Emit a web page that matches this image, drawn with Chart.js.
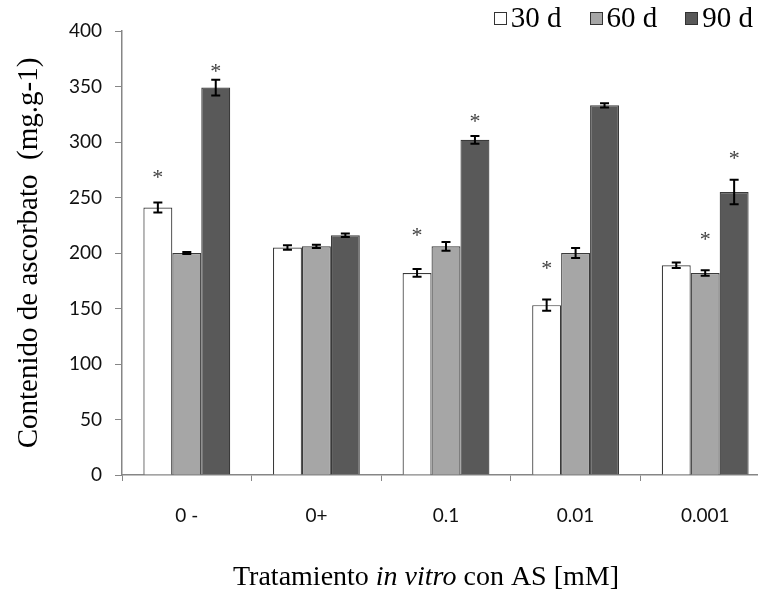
<!DOCTYPE html>
<html>
<head>
<meta charset="utf-8">
<script src="https://cdn.jsdelivr.net/npm/chart.js@4.4.0/dist/chart.umd.min.js"></script>
<style>
  html, body { margin: 0; padding: 0; background: #fff; overflow: hidden; }
  #wrap { position: relative; width: 758px; height: 597px; overflow: hidden; }
  #c { position: absolute; left: 0; top: 0; }
  #legend { position: absolute; right: 5px; top: 1px; display: flex; align-items: center;
            font-family: "Liberation Serif", serif; font-size: 29px; color: #000; }
  .item { display: flex; align-items: center; margin-left: 28px; }
  .item:first-child { margin-left: 0; }
  .sw { width: 11px; height: 11px; border: 1px solid #333; margin-right: 4px; margin-top: 2px; }
</style>
</head>
<body>
<div id="wrap">
  <canvas id="c" width="770" height="597" style="width:770px;height:597px"></canvas>
  <div id="legend"></div>
</div>
<script>
// Treatment levels and ascorbate content per sampling day
const categories = ['0 -', '0+', '0.1', '0.01', '0.001'];
const seriesLabels = ['30 d', '60 d', '90 d'];

const values30 = [241, 205, 182, 153, 189];
const values60 = [200, 206, 206, 200, 182];
const values90 = [349, 216, 302, 333, 255];

// standard errors
const err30 = [4.5, 2, 3.5, 5, 2.5];
const err60 = [1, 1.5, 4, 4.5, 2.5];
const err90 = [7, 1.5, 3.5, 2, 11];

// height (in axis units) of the significance asterisks; null = none
const star30 = [273, null, 220, 191, null];
const star60 = [null, null, null, null, 217];
const star90 = [368, null, 323, null, 290];

const yMin = 0, yMax = 400, yStep = 50;

const fills = ['#ffffff', '#a6a6a6', '#595959'];
const errs = [err30, err60, err90];
const stars = [star30, star60, star90];

const errorBars = {
  id: 'errorBars',
  afterDatasetsDraw(chart) {
    const ctx = chart.ctx, y = chart.scales.y;
    ctx.save();
    ctx.strokeStyle = '#000';
    ctx.lineWidth = 2;
    chart.data.datasets.forEach((ds, i) => {
      const meta = chart.getDatasetMeta(i);
      meta.data.forEach((bar, j) => {
        const v = ds.data[j], e = errs[i][j];
        const top = y.getPixelForValue(v + e), bot = y.getPixelForValue(v - e);
        const x = bar.x, w = 4.5;
        ctx.beginPath();
        ctx.moveTo(x, top); ctx.lineTo(x, bot);
        ctx.moveTo(x - w, top); ctx.lineTo(x + w, top);
        ctx.moveTo(x - w, bot); ctx.lineTo(x + w, bot);
        ctx.stroke();
      });
    });
    ctx.restore();
  }
};

const asterisks = {
  id: 'asterisks',
  afterDatasetsDraw(chart) {
    const ctx = chart.ctx, y = chart.scales.y;
    const size = 22;
    ctx.save();
    ctx.fillStyle = '#404040';
    ctx.font = size + 'px "Liberation Serif"';
    ctx.textAlign = 'center';
    ctx.textBaseline = 'alphabetic';
    chart.data.datasets.forEach((ds, i) => {
      const meta = chart.getDatasetMeta(i);
      meta.data.forEach((bar, j) => {
        const s = stars[i][j];
        if (s == null) return;
        ctx.fillText('*', bar.x, y.getPixelForValue(s) + 0.53 * size);
      });
    });
    ctx.restore();
  }
};

// x axis title with italic "in vitro"
const xTitle = {
  id: 'xTitle',
  afterDraw(chart) {
    const ctx = chart.ctx;
    const parts = [
      ['Tratamiento ', 'normal'],
      ['in vitro', 'italic'],
      [' con AS [mM]', 'normal']
    ];
    const size = 28;
    ctx.save();
    ctx.fillStyle = '#000';
    ctx.textBaseline = 'middle';
    ctx.textAlign = 'left';
    let total = 0;
    const widths = parts.map(([t, st]) => {
      ctx.font = st + ' ' + size + 'px "Liberation Serif"';
      const w = ctx.measureText(t).width;
      total += w;
      return w;
    });
    let x = 426 - total / 2;
    const yPos = chart.chartArea.bottom + 103;
    parts.forEach(([t, st], k) => {
      ctx.font = st + ' ' + size + 'px "Liberation Serif"';
      ctx.fillText(t, x, yPos);
      x += widths[k];
    });
    ctx.restore();
  }
};

const chart = new Chart(document.getElementById('c'), {
  type: 'bar',
  data: {
    labels: categories,
    datasets: [values30, values60, values90].map((d, i) => ({
      label: seriesLabels[i],
      data: d,
      backgroundColor: fills[i],
      borderColor: '#3a3a3a',
      borderWidth: 1.2,
      categoryPercentage: 0.67,
      barPercentage: 1
    }))
  },
  options: {
    responsive: false,
    animation: false,
    layout: { padding: { top: 31, left: 0, right: 0, bottom: 0 } },
    plugins: {
      legend: { display: false },
      tooltip: { enabled: false }
    },
    scales: {
      x: {
        afterFit(scale) { scale.height = 122; },
        grid: { offset: true, drawOnChartArea: false, drawTicks: true, tickLength: 6, color: '#868686' },
        border: { display: true, color: '#868686', width: 1.5 },
        ticks: { color: '#111', padding: 23, font: { family: 'Lato', size: 19 } }
      },
      y: {
        min: yMin, max: yMax,
        afterFit(scale) { scale.width = 122; },
        grid: { drawOnChartArea: false, drawTicks: true, tickLength: 7, color: '#868686' },
        border: { display: true, color: '#868686', width: 1.5 },
        ticks: { stepSize: yStep, color: '#111', padding: 13, font: { family: 'Lato', size: 19 } },
        title: {
          display: true,
          text: 'Contenido de ascorbato  (mg.g-1)',
          color: '#000',
          font: { family: 'Liberation Serif', size: 29 },
          padding: { top: 12, bottom: 0 }
        }
      }
    }
  },
  plugins: [errorBars, asterisks, xTitle]
});

// legend built from the chart's datasets
const legend = document.getElementById('legend');
chart.data.datasets.forEach(ds => {
  const item = document.createElement('div');
  item.className = 'item';
  const sw = document.createElement('span');
  sw.className = 'sw';
  sw.style.background = ds.backgroundColor;
  const tx = document.createElement('span');
  tx.textContent = ds.label;
  item.appendChild(sw);
  item.appendChild(tx);
  legend.appendChild(item);
});
</script>
</body>
</html>
